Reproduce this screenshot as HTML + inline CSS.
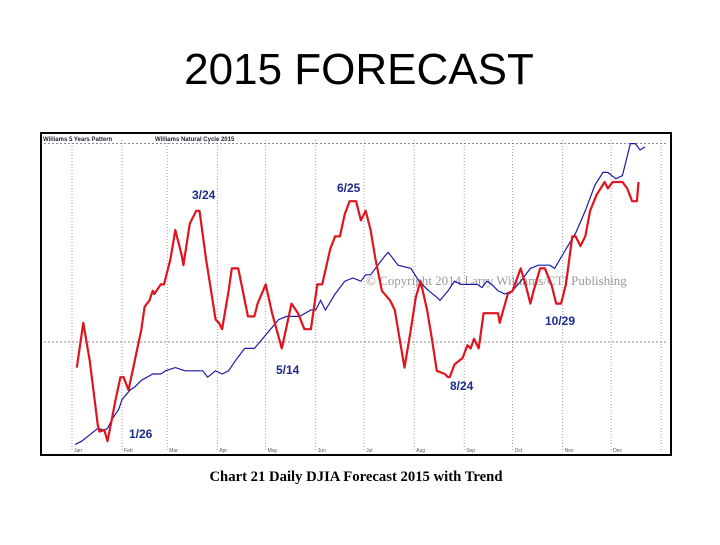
<!DOCTYPE html>
<html><head><meta charset="utf-8"><style>
body{margin:0;width:720px;height:540px;background:#fff;overflow:hidden;font-family:"Liberation Sans",sans-serif}
</style></head><body>
<svg width="720" height="540">
<text x="359" y="84" text-anchor="middle" font-size="44" font-family="Liberation Sans, sans-serif">2015 FORECAST</text>
<rect x="41" y="133" width="630" height="322" fill="#fff" stroke="#000" stroke-width="2"/>
<g id="grid"></g>
<text x="43" y="141" font-size="6" font-weight="bold" fill="#223">Williams 5 Years Pattern</text>
<text x="155" y="141" font-size="6" font-weight="bold" fill="#223">Williams Natural Cycle 2015</text>
<text x="366" y="285" font-size="13" fill="#999" font-family="Liberation Serif, serif">© Copyright 2014 Larry Williams/CTI Publishing</text>
<g id="xlabels"></g>
<path id="blue" fill="none" stroke="#1a1aa8" stroke-width="1.2"/>
<path id="red" fill="none" stroke="#e0141e" stroke-width="2.2" stroke-linejoin="round"/>
<g font-size="12" font-weight="bold" fill="#1c2a8c">
<text x="192" y="199">3/24</text>
<text x="337" y="192">6/25</text>
<text x="129" y="438">1/26</text>
<text x="276" y="374">5/14</text>
<text x="450" y="390">8/24</text>
<text x="545" y="325">10/29</text>
</g>
<text x="356" y="481" text-anchor="middle" font-size="14.7" font-weight="bold" font-family="Liberation Serif, serif">Chart 21 Daily DJIA Forecast 2015 with Trend</text>
</svg>
<script>
const redDays=[3,7,11,14,16,17,20,22,24,27,30,32,35,38,43,45,48,50,51,55,57,61,64,68,69,73,77,79,83,89,91,93,97,99,103,105,109,113,115,120,124,130,133,136,140,144,148,152,155,160,163,166,169,172,176,179,182,185,188,192,197,200,203,206,210,213,216,220,223,226,231,233,234,237,242,245,247,249,252,255,261,264,265,270,273,278,281,284,286,290,293,297,300,303,306,310,312,315,318,321,325,330,332,335,341,344,347,350,351];
const redVals=[27,41,29,17,9,7,7.5,4,9,17,24,24,20,27,39,46,48,51,50,53,53,61,70,62,59,72,76,76,61,42,41,39,51,58,58,53,43,43,47,53,44,33,40,47,44,39,39,53,53,64,68,68,75,79,79,73,76,70,61,51,48,45,36,27,39,49,54,45,36,26,25,24,24,28,30,34,33,36,33,44,44,44,41,50,51,58,53,47,51,58,58,53,47,47,53,68,68,65,68,76,81,85,83,85,85,83,79,79,85];
const blueDays=[2,6,11,16,20,22,25,29,31,36,39,43,50,55,58,64,70,81,84,89,93,97,101,107,113,118,123,128,133,136,141,148,151,154,157,163,169,174,179,182,185,191,194,196,199,202,210,215,221,226,228,233,237,241,245,251,254,257,260,264,268,273,278,284,289,293,296,299,306,312,318,324,329,332,337,341,346,349,352,355];
const blueVals=[3,4,6,8,7.5,8,11,14,17,20,21,23,25,25,26,27,26,26,24,26,25,26,29,33,33,36,39,42,43,43,43,45,45,48,45,50,54,55,54,56,56,60,62,63,61,59,58,54,51,49,48,51,54,53,53,53,52,54,53,51,50,51,54,58,59,59,59,58,64,69,76,84,88,88,86,87,97,97,95,96];
const monthLabels=["Jan","Feb","Mar","Apr","May","Jun","Jul","Aug","Sep","Oct","Nov","Dec"];
const monthStarts=[0,31,59,90,120,151,181,212,243,273,304,334];
const xs=d=>72+d*1.614, ys=v=>454-v*3.2;
const NS="http://www.w3.org/2000/svg";
function path(days,vals){return days.map((d,i)=>(i?"L":"M")+xs(d).toFixed(1)+","+ys(vals[i]).toFixed(1)).join("");}
document.getElementById('red').setAttribute('d',path(redDays,redVals));
document.getElementById('blue').setAttribute('d',path(blueDays,blueVals));
const g=document.getElementById('grid'), xl=document.getElementById('xlabels');
monthStarts.concat([365]).forEach((d,i)=>{
 const l=document.createElementNS(NS,'line');
 l.setAttribute('x1',xs(d));l.setAttribute('x2',xs(d));l.setAttribute('y1',140);l.setAttribute('y2',452);
 l.setAttribute('stroke','#888');l.setAttribute('stroke-width','0.8');l.setAttribute('stroke-dasharray','1,2');
 
 
 g.appendChild(l);
 if(i<12){const t=document.createElementNS(NS,'text');
 t.setAttribute('x',xs(d)+2);t.setAttribute('y',452);t.setAttribute('font-size','5');t.setAttribute('fill','#555');
 t.textContent=monthLabels[i];
 
 
 xl.appendChild(t);}
});
[97,35].forEach(v=>{
 const l=document.createElementNS(NS,'line');
 l.setAttribute('x1',44);l.setAttribute('x2',668);l.setAttribute('y1',ys(v));l.setAttribute('y2',ys(v));
 l.setAttribute('stroke','#666');l.setAttribute('stroke-width','0.8');l.setAttribute('stroke-dasharray','2,2');
 
 
 g.appendChild(l);
});
</script>
</body></html>
